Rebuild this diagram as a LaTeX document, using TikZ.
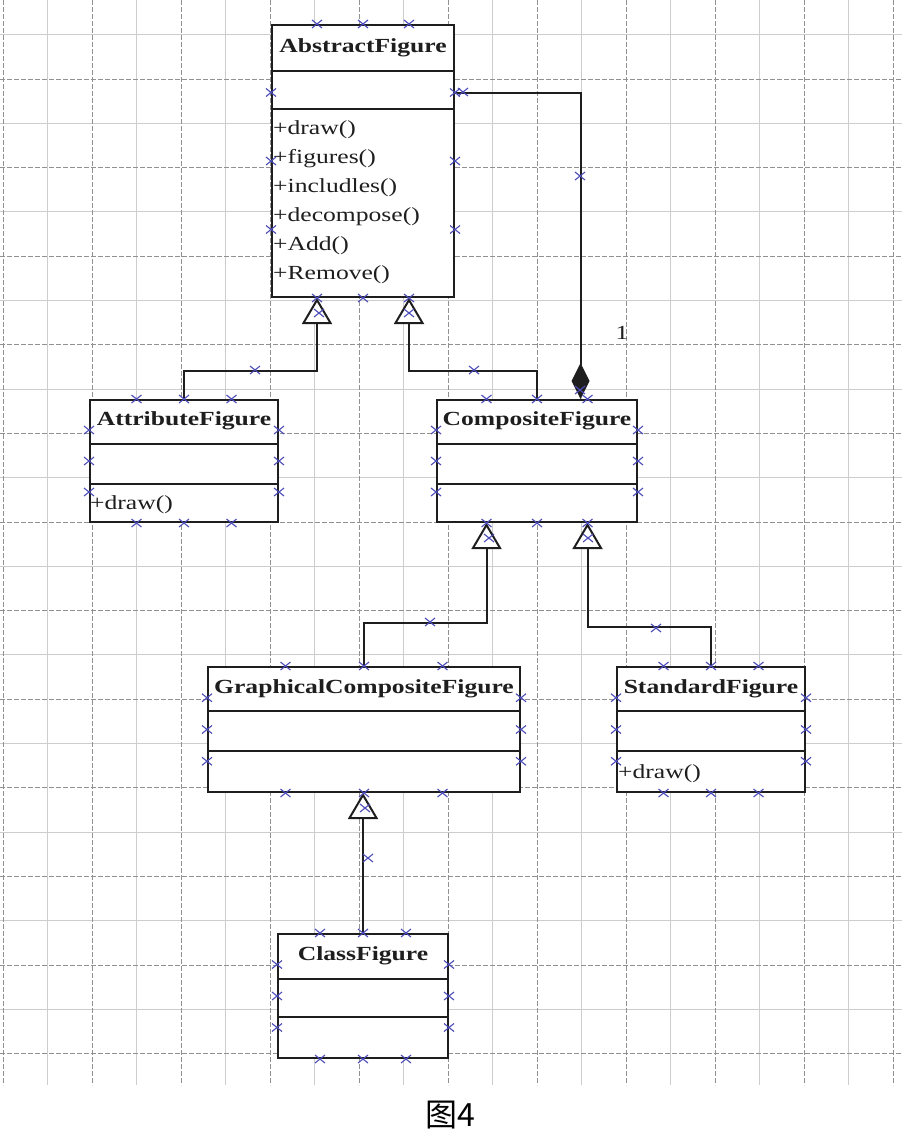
\documentclass[tikz,border=0pt]{standalone}
\usepackage{fontspec}
\setmainfont{Liberation Serif}[FakeStretch=1.28]
\newfontfamily\cjk{Noto Sans CJK SC}
\usetikzlibrary{positioning,arrows.meta,calc}
\definecolor{GridMajor}{RGB}{145,145,145}
\definecolor{GridMinor}{RGB}{205,205,205}
\definecolor{PtBlue}{RGB}{75,75,185}
\definecolor{LineDark}{RGB}{30,30,30}

\begin{document}
\begin{tikzpicture}[x=1pt,y=-1pt,
classbox/.style={rectangle,draw=LineDark,fill=white,line width=2pt,inner sep=0pt},
sep/.style={draw=LineDark,line width=2pt},
ctitle/.style={font=\fontsize{20}{24}\selectfont\bfseries,text=LineDark,inner sep=0pt},
cops/.style={font=\fontsize{20}{29}\selectfont,text=LineDark,align=left,inner sep=0pt,anchor=north west},
inherit/.style={-{Triangle[fill=white,length=26pt,width=30pt]},line width=2pt,draw=LineDark},
aggrline/.style={-{Diamond[length=36pt,width=18pt,fill=LineDark]},line width=2pt,draw=LineDark},
cpmark/.pic={\draw[PtBlue,line width=1.1pt] (-5,-4)--(5,4) (-5,4)--(5,-4);}
]
\useasboundingbox (0,0) rectangle (902,1143);

% grid
\foreach \k in {0,...,9} \draw[GridMinor,line width=1pt] ({47.5+89*\k},0) -- ({47.5+89*\k},1085);
\foreach \k in {0,...,11} \draw[GridMinor,line width=1pt] (0,{34.7+88.6*\k}) -- (902,{34.7+88.6*\k});
\foreach \k in {0,...,10} \draw[GridMajor,line width=1pt,dash pattern=on 5pt off 2pt] ({3+89*\k},0) -- ({3+89*\k},1085);
\foreach \k in {0,...,11} \draw[GridMajor,line width=1pt,dash pattern=on 5pt off 2pt] (0,{79+88.6*\k}) -- (902,{79+88.6*\k});

% classes
\node[classbox,minimum width=182pt,minimum height=272pt] (abs) at (363,161) {};
\node[ctitle] (absname) at ($(abs.north)+(0,24)$) {AbstractFigure};
\draw[sep] ($(abs.north west)+(0,47)$) -- ($(abs.north east)+(0,47)$);
\draw[sep] ($(abs.north west)+(0,85)$) -- ($(abs.north east)+(0,85)$);
\node[cops] (absops) at ($(abs.north west)+(2,96)$) {+draw()\\+figures()\\+includles()\\+decompose()\\+Add()\\+Remove()};

\node[classbox,minimum width=188pt,minimum height=122pt] (attr) at (184,461) {};
\node[ctitle] (attrname) at ($(attr.north)+(0,22)$) {AttributeFigure};
\draw[sep] ($(attr.north west)+(0,45)$) -- ($(attr.north east)+(0,45)$);
\draw[sep] ($(attr.north west)+(0,85)$) -- ($(attr.north east)+(0,85)$);
\node[cops] (attrops) at ($(attr.north west)+(1,96)$) {+draw()};

\node[classbox,minimum width=200pt,minimum height=122pt] (comp) at (537,461) {};
\node[ctitle] (compname) at ($(comp.north)+(0,22)$) {CompositeFigure};
\draw[sep] ($(comp.north west)+(0,45)$) -- ($(comp.north east)+(0,45)$);
\draw[sep] ($(comp.north west)+(0,85)$) -- ($(comp.north east)+(0,85)$);

\node[classbox,minimum width=312pt,minimum height=125pt] (gcf) at (364,729.5) {};
\node[ctitle] (gcfname) at ($(gcf.north)+(0,23)$) {GraphicalCompositeFigure};
\draw[sep] ($(gcf.north west)+(0,45)$) -- ($(gcf.north east)+(0,45)$);
\draw[sep] ($(gcf.north west)+(0,85)$) -- ($(gcf.north east)+(0,85)$);

\node[classbox,minimum width=188pt,minimum height=125pt] (std) at (711,729.5) {};
\node[ctitle] (stdname) at ($(std.north)+(0,23)$) {StandardFigure};
\draw[sep] ($(std.north west)+(0,45)$) -- ($(std.north east)+(0,45)$);
\draw[sep] ($(std.north west)+(0,85)$) -- ($(std.north east)+(0,85)$);
\node[cops] (stdops) at ($(std.north west)+(2,98)$) {+draw()};

\node[classbox,minimum width=170pt,minimum height=124pt] (cls) at (363,996) {};
\node[ctitle] (clsname) at ($(cls.north)+(0,23)$) {ClassFigure};
\draw[sep] ($(cls.north west)+(0,46)$) -- ($(cls.north east)+(0,46)$);
\draw[sep] ($(cls.north west)+(0,84)$) -- ($(cls.north east)+(0,84)$);

% connection points
\coordinate (absL) at ($(abs.south west)!0.25!(abs.south east)$);
\coordinate (absR) at ($(abs.south west)!0.75!(abs.south east)$);
\coordinate (absE) at ($(abs.north east)!0.25!(abs.south east)$);
\coordinate (compT) at ([xshift=-7pt]$(comp.north west)!0.75!(comp.north east)$);
\coordinate (compL) at ($(comp.south west)!0.25!(comp.south east)$);
\coordinate (compR) at ($(comp.south west)!0.75!(comp.south east)$);

% relations
\draw[inherit] (attr.north) |- ([yshift=-73pt]absL) -- (absL);
\draw[inherit] (comp.north) |- ([yshift=-73pt]absR) -- (absR);
\draw[aggrline] (absE) -| (compT);
\node[font=\fontsize{20}{24}\selectfont,text=LineDark] (mult) at (622,333) {1};
\draw[inherit] (gcf.north) |- ([yshift=-100pt]compL) -- (compL);
\draw[inherit] (std.north) |- ([yshift=-104pt]compR) -- (compR);
\draw[inherit] (cls.north) -- (cls.north |- gcf.south);

% blue markers
\foreach \b in {abs,attr,comp,gcf,std,cls}
  \foreach \f in {0.25,0.5,0.75}{
    \pic at ($(\b.north west)!\f!(\b.north east)$) {cpmark};
    \pic at ($(\b.south west)!\f!(\b.south east)$) {cpmark};
    \pic at ($(\b.north west)!\f!(\b.south west)$) {cpmark};
    \pic at ($(\b.north east)!\f!(\b.south east)$) {cpmark};
  }
\foreach \p in {(255,370),(474,370),(580,176),(463,92),(319,313),(409,313),(489,538),(588,538),(365,808),(580,390),(430,622),(656,628),(368,858)}
  \pic at \p {cpmark};

% caption
\node[font=\cjk\fontsize{32}{36}\selectfont] (cap) at (450,1115) {图4};
\end{tikzpicture}
\end{document}
